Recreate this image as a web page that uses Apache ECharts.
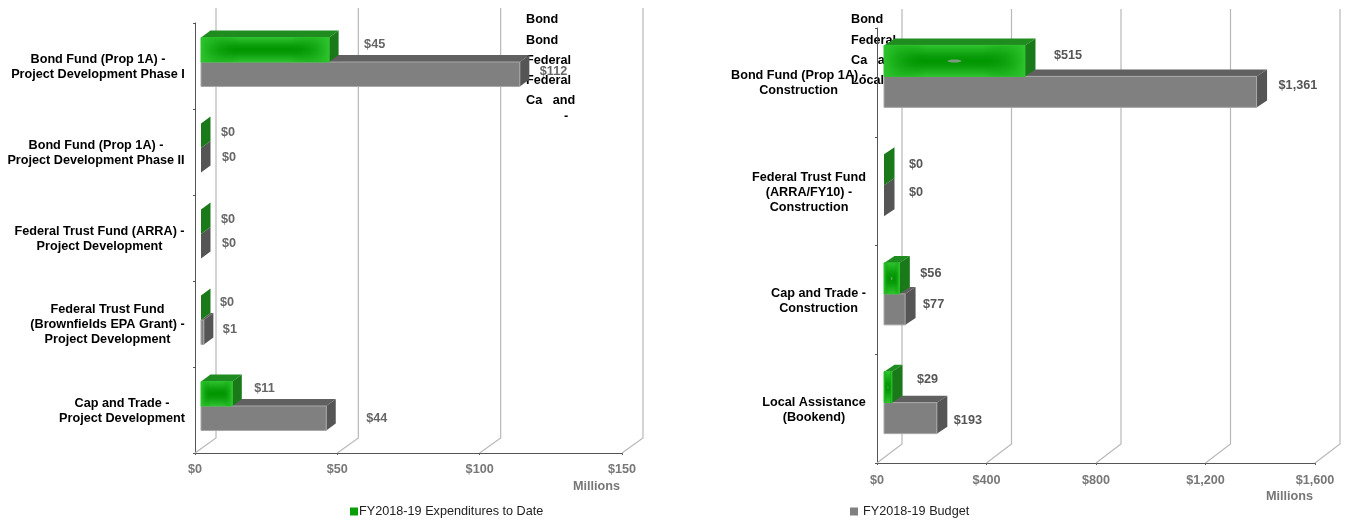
<!DOCTYPE html>
<html>
<head>
<meta charset="utf-8">
<style>html,body{margin:0;padding:0;background:#fff}#chart{width:1345px;height:520px}</style>
<script src="https://cdn.jsdelivr.net/npm/echarts@6/dist/echarts.min.js"></script>
</head>
<body>
<div id="chart"></div>
<script>
// Program funding, FY2018-19 expenditures vs budget (millions of dollars)
var FONT = '"Liberation Sans", Arial, sans-serif';
var FONT_SIZE = 12.67;
var EXP_NAME = 'FY2018-19 Expenditures to Date';
var BUD_NAME = 'FY2018-19 Budget';

var devCategories = [
  'Bond Fund (Prop 1A) -\nProject Development Phase I',
  'Bond Fund (Prop 1A) -\nProject Development Phase II',
  'Federal Trust Fund (ARRA) -\nProject Development',
  'Federal Trust Fund\n(Brownfields EPA Grant) -\nProject Development',
  'Cap and Trade -\nProject Development'
];
var devExpenditures = [45, 0, 0, 0, 11];
var devBudget = [112, 0, 0, 1, 44];
var devTicks = [0, 50, 100, 150];

var conCategories = [
  'Bond Fund (Prop 1A) -\nConstruction',
  'Federal Trust Fund\n(ARRA/FY10) -\nConstruction',
  'Cap and Trade -\nConstruction',
  'Local Assistance\n(Bookend)'
];
var conExpenditures = [515, 0, 56, 29];
var conBudget = [1361, 0, 77, 193];
var conTicks = [0, 400, 800, 1200, 1600];

// Leftover key text that sits behind the bars of each panel
var devKeyLines = ['Bond', 'Bond', 'Federal', 'Federal', 'Ca   and', '-'];
var conKeyLines = ['Bond', 'Federal', 'Ca   and', 'Local'];

// Value label offsets from the end of each bar's front face
var devExpLabelGap = [[35, -5], [20, -3], [20, -2], [19, -5], [22, -5]];
var devBudLabelGap = [[20, -3], [21, -3], [21, -3], [19, -3], [40, 0]];
var conExpLabelGap = [[29, -5], [25, -5], [21, -5], [25, -8]];
var conBudLabelGap = [[22, -6], [25, -8], [18, -5], [17, 2]];

var measure = document.createElement('canvas').getContext('2d');
measure.font = 'bold ' + FONT_SIZE + 'px ' + FONT;

// Every line of a label is centred inside the width of its longest line
function centredLabels(categories) {
  var rich = {};
  categories.forEach(function (text, i) {
    var width = Math.max.apply(null, text.split('\n').map(function (l) {
      return measure.measureText(l).width;
    }));
    rich['c' + i] = {
      width: Math.ceil(width), align: 'center', lineHeight: 15,
      fontFamily: FONT, fontWeight: 'bold', fontSize: FONT_SIZE, color: '#000'
    };
  });
  return {
    rich: rich,
    formatter: function (value, index) {
      return value.split('\n').map(function (l) {
        return '{c' + index + '|' + l + '}';
      }).join('\n');
    }
  };
}

var PALETTE = {
  green: { top: '#1f8c1f', side: '#1a7a1a', line: '#2fc02f' },
  grey: { top: '#606060', side: '#555555', line: '#a8a8a8' }
};

function barRenderer(look, geo, gaps, labelColor, spot) {
  return function (params, api) {
    var v = api.value(0), idx = api.value(1);
    var p = api.coord([v, idx]);
    var base = api.coord([0, idx]);
    var x0 = base[0] + geo.shiftX;
    var x1 = p[0] + geo.shiftX;
    var mid = p[1] - geo.shiftY;
    var y0 = look === 'green' ? mid - geo.h : mid;
    var y1 = y0 + geo.h;
    var w = x1 - x0;
    var c = PALETTE[look];
    var kids = [];
    if (w > 0) {
      kids.push({
        type: 'polygon',
        shape: { points: [[x0, y0], [x0 + geo.dx, y0 - geo.dy], [x1 + geo.dx, y0 - geo.dy], [x1, y0]] },
        style: { fill: c.top }
      });
    }
    kids.push({
      type: 'polygon',
      shape: { points: [[x1, y0], [x1 + geo.dx, y0 - geo.dy], [x1 + geo.dx, y1 - geo.dy], [x1, y1]] },
      style: { fill: c.side }
    });
    if (w > 0 && look === 'green') {
      kids.push({
        type: 'rect', shape: { x: x0, y: y0, width: w, height: geo.h },
        style: {
          stroke: c.line, lineWidth: 1,
          fill: new echarts.graphic.LinearGradient(0, 0, 0, 1, [
            { offset: 0, color: '#2ec52e' }, { offset: 0.35, color: '#0a9c0a' }, { offset: 0.5, color: '#009600' },
            { offset: 0.65, color: '#0a9c0a' }, { offset: 1, color: '#2ec52e' }
          ])
        }
      });
      kids.push({
        type: 'rect', shape: { x: x0, y: y0, width: w, height: geo.h },
        style: {
          fill: new echarts.graphic.LinearGradient(0, 0, 1, 0, [
            { offset: 0, color: 'rgba(46,197,46,0.95)' }, { offset: 0.3, color: 'rgba(0,150,0,0)' },
            { offset: 0.7, color: 'rgba(0,150,0,0)' }, { offset: 1, color: 'rgba(46,197,46,0.95)' }
          ])
        }
      });
      if (spot) {
        kids.push({
          type: 'ellipse',
          shape: { cx: x0 + w / 2, cy: y0 + geo.h / 2, rx: w * 0.05, ry: 1.5 },
          style: { fill: '#7d9a7d' }
        });
      }
    } else if (w > 0) {
      kids.push({
        type: 'rect', shape: { x: x0, y: y0, width: w, height: geo.h },
        style: { fill: '#808080', stroke: c.line, lineWidth: 1 }
      });
    }
    var gap = gaps[params.dataIndex];
    kids.push({
      type: 'text',
      style: {
        x: x1 + gap[0], y: y0 + geo.h / 2 + gap[1],
        text: '$' + v.toLocaleString('en-US'),
        fill: labelColor, fontWeight: 'bold', fontSize: FONT_SIZE, fontFamily: FONT,
        textAlign: 'left', textVerticalAlign: 'middle'
      }
    });
    return { type: 'group', children: kids };
  };
}

// Receding grid lines: diagonal from the tick, then up the back wall
function wallRenderer(geo, categoryCount) {
  return function (params, api) {
    var v = api.value(0);
    var band = api.size([0, 1])[1];
    var p = api.coord([v, categoryCount - 1]);
    var yb = p[1] + band / 2;
    var top = params.coordSys.y - geo.wallY;
    return {
      type: 'polyline',
      shape: { points: [[p[0], yb], [p[0] + geo.wallX, yb - geo.wallY], [p[0] + geo.wallX, top]] },
      style: { stroke: '#b8b8b8', lineWidth: 1.2, fill: null }
    };
  };
}

function pairs(values) {
  return values.map(function (v, i) { return [v, i]; });
}

var GEO_DEV = { shiftX: 6, shiftY: 4, dx: 9.5, dy: 7, h: 24.5, wallX: 21, wallY: 15 };
var GEO_CON = { shiftX: 7, shiftY: 6, dx: 10.5, dy: 7, h: 31, wallX: 25, wallY: 19 };

function panelSeries(i, categories, ticks, exp, bud, geo, expGaps, budGaps, labelColor, spot) {
  return [
    {
      type: 'custom', silent: true, xAxisIndex: i, yAxisIndex: i, z: 2,
      data: ticks.map(function (t) { return [t]; }),
      encode: { x: 0 }, renderItem: wallRenderer(geo, categories.length)
    },
    {
      type: 'custom', name: BUD_NAME, xAxisIndex: i, yAxisIndex: i, z: 3,
      itemStyle: { color: '#808080' }, data: pairs(bud), encode: { x: 0, y: 1 },
      renderItem: barRenderer('grey', geo, budGaps, labelColor, false)
    },
    {
      type: 'custom', name: EXP_NAME, xAxisIndex: i, yAxisIndex: i, z: 4,
      itemStyle: { color: '#0a9e0a' }, data: pairs(exp), encode: { x: 0, y: 1 },
      renderItem: barRenderer('green', geo, expGaps, labelColor, spot)
    }
  ];
}

function xAxis(i, ticks, margin, namePad) {
  return {
    type: 'value', gridIndex: i, min: 0, max: ticks[ticks.length - 1], interval: ticks[1],
    splitLine: { show: false },
    axisLine: { show: true, lineStyle: { color: '#555', width: 1 } },
    axisTick: { show: true, length: 2, lineStyle: { color: '#555' } },
    axisLabel: {
      margin: margin, fontFamily: FONT, fontWeight: 'bold', fontSize: FONT_SIZE, color: '#777',
      formatter: function (v) { return '$' + v.toLocaleString('en-US'); }
    },
    name: 'Millions', nameLocation: 'end', nameGap: -2,
    nameTextStyle: {
      fontFamily: FONT, fontWeight: 'bold', fontSize: FONT_SIZE, color: '#777',
      align: 'right', verticalAlign: 'top', padding: [namePad, 0, 0, 0]
    }
  };
}

function yAxis(i, categories, margin) {
  var labels = centredLabels(categories);
  return {
    type: 'category', gridIndex: i, data: categories, inverse: true,
    axisLine: { show: true, onZero: false, lineStyle: { color: '#555', width: 1 } },
    axisTick: { show: true, length: 2, lineStyle: { color: '#555' } },
    axisLabel: {
      margin: margin, interval: 0, align: 'right', padding: [2, 0, 0, 0],
      formatter: labels.formatter, rich: labels.rich, hideOverlap: false
    },
    splitLine: { show: false }
  };
}

function keyText(lines, x, ys, xs) {
  return lines.map(function (line, i) {
    return {
      type: 'text', z: 0, silent: true,
      x: xs && xs[i] != null ? xs[i] : x, y: ys[i],
      style: { text: line, font: 'bold ' + FONT_SIZE + 'px ' + FONT, fill: '#000', textVerticalAlign: 'middle' }
    };
  });
}

var option = {
  animation: false,
  backgroundColor: '#fff',
  grid: [
    { left: 195, top: 23, width: 427, height: 430 },
    { left: 877, top: 28, width: 438, height: 435 }
  ],
  xAxis: [xAxis(0, devTicks, 10, 27), xAxis(1, conTicks, 11, 27)],
  yAxis: [yAxis(0, devCategories, 10), yAxis(1, conCategories, 11)],
  legend: [
    {
      data: [EXP_NAME], left: 345, top: 500, itemWidth: 8, itemHeight: 8, icon: 'rect',
      selectedMode: false,
      textStyle: { fontFamily: FONT, fontSize: FONT_SIZE, color: '#222', padding: [0, 0, 0, -4] }
    },
    {
      data: [BUD_NAME], left: 845, top: 500, itemWidth: 8, itemHeight: 8, icon: 'rect',
      selectedMode: false,
      textStyle: { fontFamily: FONT, fontSize: FONT_SIZE, color: '#222' }
    }
  ],
  graphic: {
    elements: keyText(devKeyLines, 526, [20, 41, 61, 81, 101, 117], [null, null, null, null, null, 564])
      .concat(keyText(conKeyLines, 851, [20, 41, 61, 81]))
  },
  series: panelSeries(0, devCategories, devTicks, devExpenditures, devBudget, GEO_DEV, devExpLabelGap, devBudLabelGap, '#666', false)
    .concat(panelSeries(1, conCategories, conTicks, conExpenditures, conBudget, GEO_CON, conExpLabelGap, conBudLabelGap, '#555', true))
};

var chart = echarts.init(document.getElementById('chart'));
chart.setOption(option);
</script>
</body>
</html>
